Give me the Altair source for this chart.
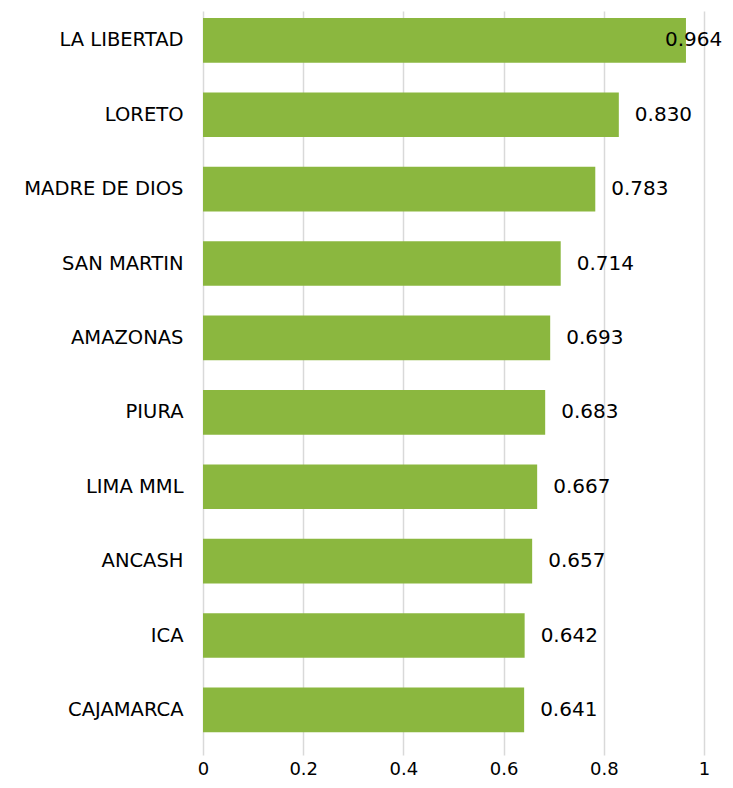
import altair as alt
import pandas as pd

regions = ["LA LIBERTAD", "LORETO", "MADRE DE DIOS", "SAN MARTIN", "AMAZONAS",
           "PIURA", "LIMA MML", "ANCASH", "ICA", "CAJAMARCA"]
values = [0.964, 0.830, 0.783, 0.714, 0.693, 0.683, 0.667, 0.657, 0.642, 0.641]
labels = ["0.964", "0.830", "0.783", "0.714", "0.693", "0.683", "0.667", "0.657", "0.642", "0.641"]
inside = [True, False, False, False, False, False, False, False, False, False]

df = pd.DataFrame({"region": regions, "value": values, "label": labels, "inside": inside})

FONT = "DejaVu Sans"
GREEN = "#8BB73F"

y_enc = alt.Y("region:N", sort=regions, title=None,
              scale=alt.Scale(paddingInner=0.4, paddingOuter=0.2, align=0.235),
              axis=alt.Axis(labelFont=FONT, labelFontSize=19.5, labelColor="#000000",
                            labelPadding=20, ticks=False, domain=False, grid=False))
x_enc = alt.X("value:Q", title=None,
              scale=alt.Scale(domain=[0, 1], nice=False),
              axis=alt.Axis(values=[0, 0.2, 0.4, 0.6, 0.8, 1], format="~g",
                            labelFont=FONT, labelFontSize=18, labelColor="#000000",
                            labelFlush=False,
                            labelPadding=5, ticks=False, domain=False,
                            grid=True, gridColor="#d9d9d9", gridWidth=1.5))

bars = alt.Chart(df).mark_bar(color=GREEN).encode(y=y_enc, x=x_enc)

text_out = alt.Chart(df).transform_filter("!datum.inside").mark_text(
    align="left", baseline="middle", dx=16, font=FONT, fontSize=20, color="#000000"
).encode(y=alt.Y("region:N", sort=regions), x="value:Q", text="label:N")

text_in = alt.Chart(df).transform_filter("datum.inside").mark_text(
    align="left", baseline="middle", dx=-21, font=FONT, fontSize=20, color="#000000"
).encode(y=alt.Y("region:N", sort=regions), x="value:Q", text="label:N")

chart = (bars + text_out + text_in).properties(
    width=501, height=744,
    background="white",
    autosize=alt.AutoSizeParams(type="none"),
    padding={"left": 195, "top": 3, "right": 21, "bottom": 25},
).configure_view(stroke=None)

chart.save("out.html", embed_options={"renderer": "svg", "actions": False})
